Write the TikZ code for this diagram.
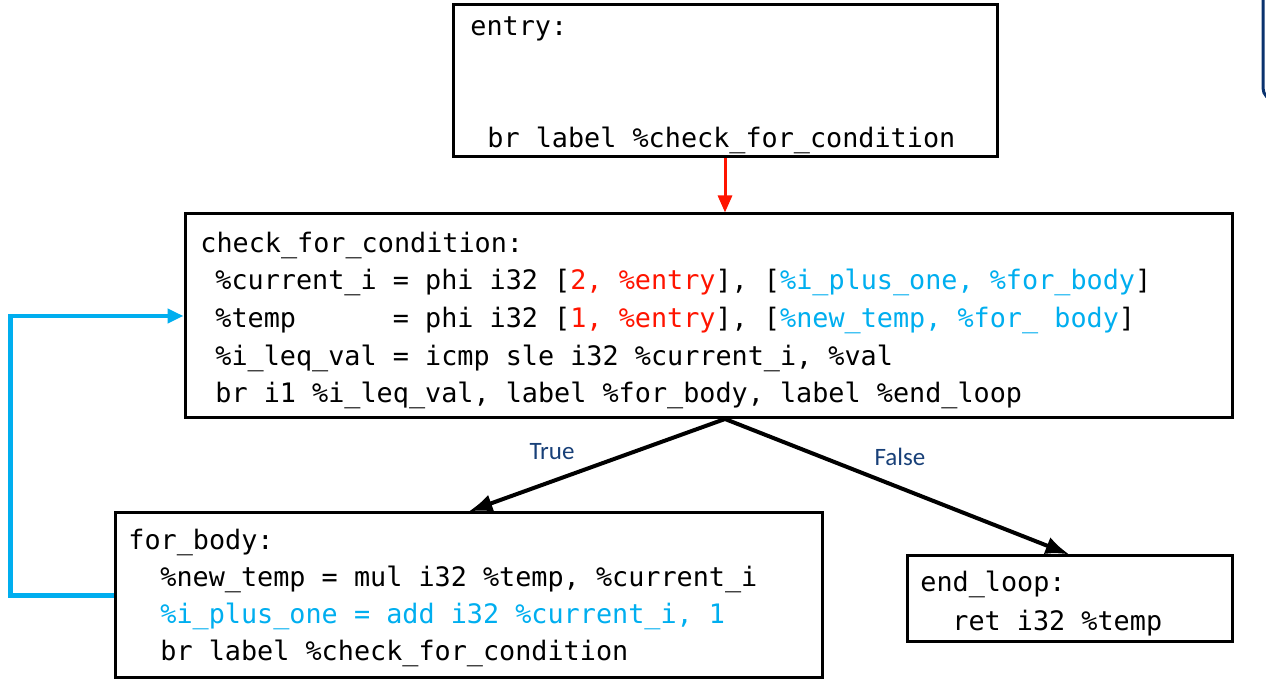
\documentclass[tikz,border=0pt]{standalone}
\usepackage{fontspec}
\setmonofont{DejaVu Sans Mono}
\newfontfamily\labelfont{Carlito}
\usepackage{xcolor}
\usetikzlibrary{arrows.meta}
\tikzset{>=latex}
\definecolor{codered}{RGB}{255,20,0}
\definecolor{codeblue}{RGB}{0,174,239}
\definecolor{labelblue}{RGB}{24,64,120}
\definecolor{navyedge}{RGB}{10,50,110}
\newcommand{\cred}[1]{\textcolor{codered}{#1}}
\newcommand{\cblue}[1]{\textcolor{codeblue}{#1}}
\tikzset{
  block/.style={draw, line width=1.5pt, inner sep=0pt},
  code/.style={anchor=base west, inner sep=0pt, font=\ttfamily\fontsize{13.4}{16}\selectfont},
  branch/.style={line width=2pt, -{Latex[length=12pt,width=9pt]}},
  fallin/.style={codered, line width=1.5pt, -{Triangle[length=8.5pt,width=7pt]}},
  loopback/.style={codeblue, line width=2.2pt, -{Triangle[length=8pt,width=7pt]}},
  brlabel/.style={text=labelblue, font=\labelfont\fontsize{12.5}{15}\selectfont},
}

\begin{document}
\begin{tikzpicture}[x=0.5pt,y=-0.5pt]
\useasboundingbox (0,0) rectangle (1266,688);
% basic blocks
\node[block, minimum width=272pt, minimum height=76pt] (entry) at (725,81) {};
\node[block, minimum width=523.5pt, minimum height=102pt] (check) at (708.5,316) {};
\node[block, minimum width=353.5pt, minimum height=82.5pt] (for_body) at (468.5,595.5) {};
\node[block, minimum width=162.5pt, minimum height=43pt] (end_loop) at (1069.5,599) {};

% entry
\node[code] (e1) at (470,36) {entry:};
\node[code] (e2) at (487,148) {br label \%check\_for\_condition};

% check_for_condition
\node[code] (c1) at (200,253) {check\_for\_condition:};
\node[code] (c2) at (215,290) {\%current\_i = phi i32 [\cred{2, \%entry}], [\cblue{\%i\_plus\_one, \%for\_body}]};
\node[code] (c3) at (215,328) {\%temp\ \ \ \ \ \ = phi i32 [\cred{1, \%entry}], [\cblue{\%new\_temp, \%for\_ body}]};
\node[code] (c4) at (215,366) {\%i\_leq\_val = icmp sle i32 \%current\_i, \%val};
\node[code] (c5) at (215,403) {br i1 \%i\_leq\_val, label \%for\_body, label \%end\_loop};

% for_body
\node[code] (f1) at (128,550) {for\_body:};
\node[code] (f2) at (160,587) {\%new\_temp = mul i32 \%temp, \%current\_i};
\node[code] (f3) at (160,624) {\cblue{\%i\_plus\_one = add i32 \%current\_i, 1}};
\node[code] (f4) at (160,661) {br label \%check\_for\_condition};

% end_loop
\node[code] (l1) at (920,592) {end\_loop:};
\node[code] (l2) at (952,631) {ret i32 \%temp};

% branch labels
\node[brlabel] (truelbl) at (552,452) {True};
\node[brlabel] (falselbl) at (900,457) {False};

% edges
\coordinate (split) at (725,419);
\draw[fallin] (entry.south) -- (entry.south |- check.north);
\draw[branch] (split) -- (for_body.north);
\draw[branch] (split) -- (end_loop.north);
\draw[loopback] (for_body.west) -- ++(-103,0) |- (check.west);

% edge of the shape cut off at the top right
\draw[navyedge, line width=1.5pt, rounded corners=6pt] (1263,0) -- (1263,100) -- (1300,100);
\end{tikzpicture}
\end{document}
